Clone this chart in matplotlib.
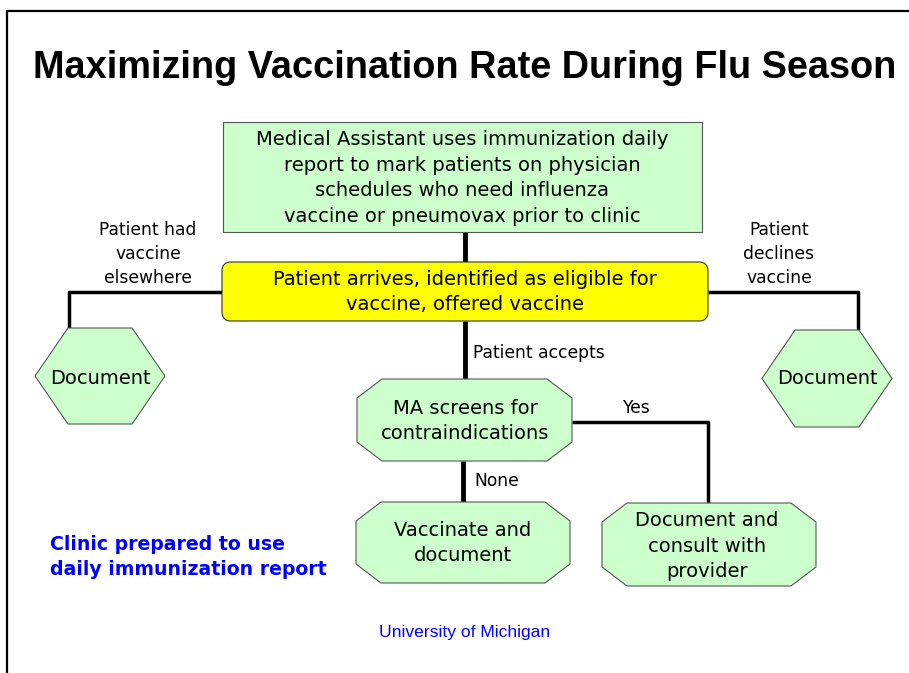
import matplotlib
matplotlib.use("Agg")
import matplotlib.pyplot as plt
import matplotlib.patches as patches

plt.rcParams["font.family"] = ["DejaVu Sans"]
ARIAL = ["Liberation Sans", "DejaVu Sans"]

TITLE = "Maximizing Vaccination Rate During Flu Season"
top_text = ("Medical Assistant uses immunization daily\nreport to mark patients on physician\n"
            "schedules who need influenza\nvaccine or pneumovax prior to clinic")
arrive_text = "Patient arrives, identified as eligible for\nvaccine, offered vaccine"
screen_text = "MA screens for\ncontraindications"
vacc_text = "Vaccinate and\ndocument"
consult_text = "Document and\nconsult with\nprovider"
doc_text = "Document"
edge_labels = ["Patient had\nvaccine\nelsewhere", "Patient\ndeclines\nvaccine",
               "Patient accepts", "Yes", "None"]
note_text = "Clinic prepared to use\ndaily immunization report"
footer = "University of Michigan"

GREEN = "#ccffcc"
YELLOW = "#ffff00"
EDGE = "#555555"
BLUE = "#0000ff"

fig = plt.figure(figsize=(9.09, 6.73), dpi=100)
ax = fig.add_axes([0, 0, 1, 1])
ax.set_xlim(0, 909)
ax.set_ylim(673, 0)
ax.axis("off")

# slide frame
ax.plot([7, 7, 909], [673, 11, 11], color="black", lw=1.6)

ax.text(465, 68, TITLE, ha="center", va="center", fontsize=27.3,
        weight="bold", family=ARIAL)


def line(xs, ys, lw=2.5):
    ax.plot(xs, ys, color="black", lw=lw, solid_capstyle="butt", zorder=1)


def hexagon(x0, x1, y0, y1, a):
    cy = (y0 + y1) / 2
    pts = [(x0, cy), (x0 + a, y0), (x1 - a, y0), (x1, cy), (x1 - a, y1), (x0 + a, y1)]
    ax.add_patch(patches.Polygon(pts, closed=True, fc=GREEN, ec=EDGE, lw=0.8, zorder=2))


def octagon(x0, x1, y0, y1, cx=25, cy=19):
    pts = [(x0 + cx, y0), (x1 - cx, y0), (x1, y0 + cy), (x1, y1 - cy),
           (x1 - cx, y1), (x0 + cx, y1), (x0, y1 - cy), (x0, y0 + cy)]
    ax.add_patch(patches.Polygon(pts, closed=True, fc=GREEN, ec=EDGE, lw=0.8, zorder=2))


# connectors
line([465, 465], [232, 262], lw=3.5)
line([465, 465], [321, 379], lw=3.5)
line([463, 463], [461, 502], lw=3.5)
line([222, 69, 69], [292, 292, 328])
line([708, 858, 858], [292, 292, 330])
line([572, 708, 708], [422, 422, 503])

# boxes
ax.add_patch(patches.Rectangle((223, 122), 479, 110, fc=GREEN, ec=EDGE, lw=0.8, zorder=2))
ax.add_patch(patches.FancyBboxPatch((222, 262), 486, 59,
                                    boxstyle="round,pad=0,rounding_size=9",
                                    fc=YELLOW, ec="#333333", lw=0.8, zorder=2))
hexagon(35, 165, 328, 424, 33)
hexagon(762, 892, 330, 427, 33)
octagon(357, 572, 379, 461)
octagon(356, 570, 502, 583)
octagon(602, 816, 503, 586)

txt = dict(ha="center", va="center", fontsize=14, linespacing=1.44, zorder=3)
ax.text(462, 178, top_text, **txt)
ax.text(465, 292, arrive_text, **txt)
ax.text(465, 421, screen_text, **txt)
ax.text(463, 543, vacc_text, **txt)
ax.text(707, 546, consult_text, **txt)
ax.text(100, 378, doc_text, **txt)
ax.text(827, 379, doc_text, **txt)

lbl = dict(fontsize=12.3, va="center", linespacing=1.4)
ax.text(148, 254, edge_labels[0], ha="center", **lbl)
ax.text(779, 254, edge_labels[1], ha="center", **lbl)
ax.text(473, 353, edge_labels[2], ha="left", **lbl)
ax.text(636, 408, edge_labels[3], ha="center", **lbl)
ax.text(474, 481, edge_labels[4], ha="left", **lbl)

ax.text(50, 557, note_text, ha="left", va="center", fontsize=13.6,
        weight="bold", color=BLUE, linespacing=1.38)
ax.text(465, 632, footer, ha="center", va="center", fontsize=12.6,
        color=BLUE, family=ARIAL)

fig.savefig("out.png", dpi=100)
